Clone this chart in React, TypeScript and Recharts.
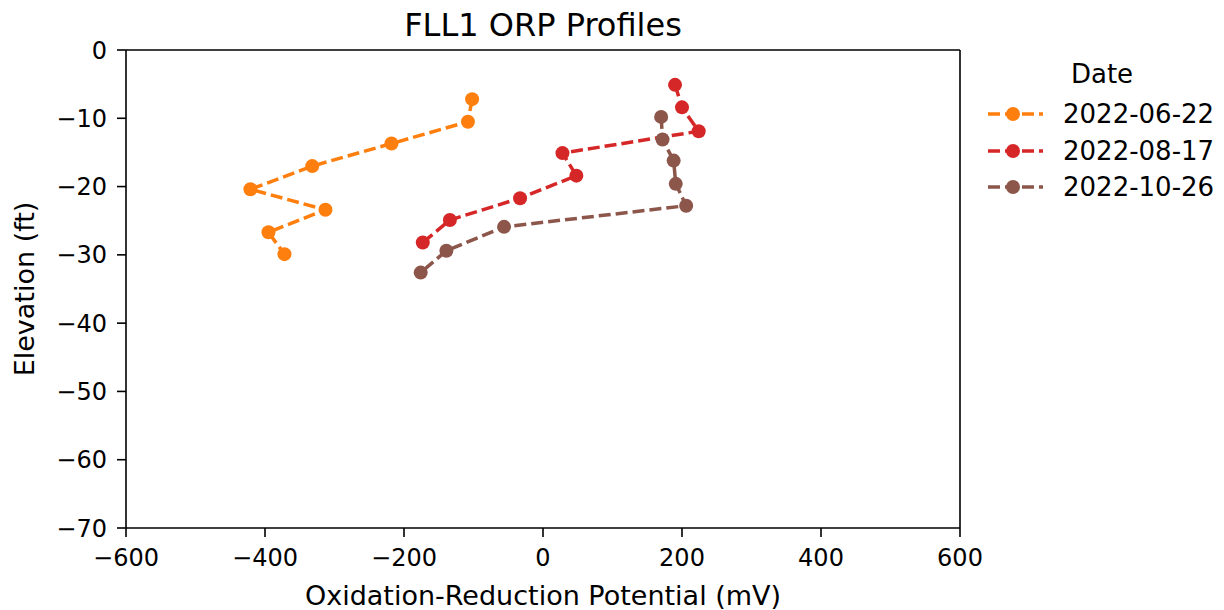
import React from 'react';
import { LineChart, Line, XAxis, YAxis, Legend, ReferenceLine } from 'recharts';

const FONT = '"DejaVu Sans", sans-serif';

const seriesNames = ['2022-06-22', '2022-08-17', '2022-10-26'];
const seriesColors = ['#ff7f0e', '#d62728', '#8c564b'];

const orp0622 = [-102, -108, -218, -332, -421, -313, -395, -372];
const elev0622 = [-7.2, -10.5, -13.7, -17.0, -20.4, -23.4, -26.7, -29.9];

const orp0817 = [190, 200, 224, 28, 48, -33, -134, -173];
const elev0817 = [-5.1, -8.4, -11.9, -15.1, -18.4, -21.7, -24.9, -28.2];

const orp1026 = [170, 172, 188, 191, 206, -56, -139, -176];
const elev1026 = [-9.8, -13.1, -16.2, -19.6, -22.8, -25.9, -29.4, -32.6];

const xTicks = [-600, -400, -200, 0, 200, 400, 600];
const yTicks = [0, -10, -20, -30, -40, -50, -60, -70];

const zip = (xs: number[], ys: number[]) => xs.map((x, i) => ({ x, y: ys[i] }));
const seriesData = [zip(orp0622, elev0622), zip(orp0817, elev0817), zip(orp1026, elev1026)];

const fmt = (v: number) => String(v).replace('-', '\u2212');

const LegendBox = () => (
  <div style={{ position: 'relative', width: 240, height: 180, fontFamily: FONT, color: '#000' }}>
    <div style={{ position: 'absolute', left: 0, width: 228, top: 7, textAlign: 'center', fontSize: 26, lineHeight: '30px' }}>
      Date
    </div>
    {seriesNames.map((name, i) => (
      <div key={name} style={{ position: 'absolute', left: 0, top: 47 + i * 36.5, height: 30, display: 'flex', alignItems: 'center' }}>
        <svg width={58} height={30} style={{ display: 'block' }}>
          <line x1={0} y1={15} x2={55} y2={15} stroke={seriesColors[i]} strokeWidth={3.5} strokeDasharray="12 5" />
          <circle cx={25} cy={15} r={7} fill={seriesColors[i]} />
        </svg>
        <span style={{ marginLeft: 17, fontSize: 26, lineHeight: '30px', whiteSpace: 'nowrap' }}>{name}</span>
      </div>
    ))}
  </div>
);

export default function App() {
  return (
    <div style={{ position: 'absolute', left: 0, top: 0, width: 1224, height: 610, background: '#fff', fontFamily: FONT }}>
      <div
        style={{
          position: 'absolute',
          left: 0,
          width: 1086,
          top: 9,
          textAlign: 'center',
          fontSize: 32,
          lineHeight: '32px',
          color: '#000',
          fontFamily: FONT,
        }}
      >
        FLL1 ORP Profiles
      </div>
      <LineChart
        width={1224}
        height={610}
        margin={{ top: 50, right: 264, bottom: 0, left: 0 }}
        style={{ fontFamily: FONT }}
      >
        <XAxis
          xAxisId="main"
          type="number"
          dataKey="x"
          domain={[-600, 600]}
          ticks={xTicks}
          tickFormatter={fmt}
          allowDataOverflow
          height={82}
          tickSize={9}
          tickMargin={12}
          axisLine={{ stroke: '#000', strokeWidth: 1.6 }}
          tickLine={{ stroke: '#000', strokeWidth: 1.6 }}
          tick={{ fontSize: 24, fill: '#000', fontFamily: FONT }}
          label={{ value: 'Oxidation-Reduction Potential (mV)', position: 'insideBottom', offset: 5, fontSize: 27, fill: '#000', fontFamily: FONT }}
        />
        <YAxis
          yAxisId="main"
          type="number"
          domain={[-70, 0]}
          ticks={yTicks}
          tickFormatter={fmt}
          allowDataOverflow
          width={126}
          tickSize={9}
          tickMargin={10}
          axisLine={{ stroke: '#000', strokeWidth: 1.6 }}
          tickLine={{ stroke: '#000', strokeWidth: 1.6 }}
          tick={{ fontSize: 24, fill: '#000', fontFamily: FONT }}
          label={{ value: 'Elevation (ft)', angle: -90, position: 'insideLeft', offset: 24, fontSize: 27, fill: '#000', fontFamily: FONT, style: { textAnchor: 'middle' } }}
        />
        <ReferenceLine xAxisId="main" yAxisId="main" y={0} stroke="#000" strokeWidth={1.6} ifOverflow="visible" />
        <ReferenceLine xAxisId="main" yAxisId="main" x={600} stroke="#000" strokeWidth={1.6} ifOverflow="visible" />
        {seriesData.map((d, i) => (
          <Line
            key={seriesNames[i]}
            xAxisId="main"
            yAxisId="main"
            data={d}
            dataKey="y"
            name={seriesNames[i]}
            stroke={seriesColors[i]}
            strokeWidth={3.5}
            strokeDasharray="12 5"
            dot={{ r: 7, fill: seriesColors[i], stroke: seriesColors[i], strokeWidth: 0, strokeDasharray: '' }}
            activeDot={false}
            isAnimationActive={false}
          />
        ))}
        <Legend
          layout="vertical"
          align="center"
          verticalAlign="middle"
          content={() => <LegendBox />}
          wrapperStyle={{ position: 'absolute', left: 988, top: 52, width: 240, height: 180 }}
        />
      </LineChart>
    </div>
  );
}
